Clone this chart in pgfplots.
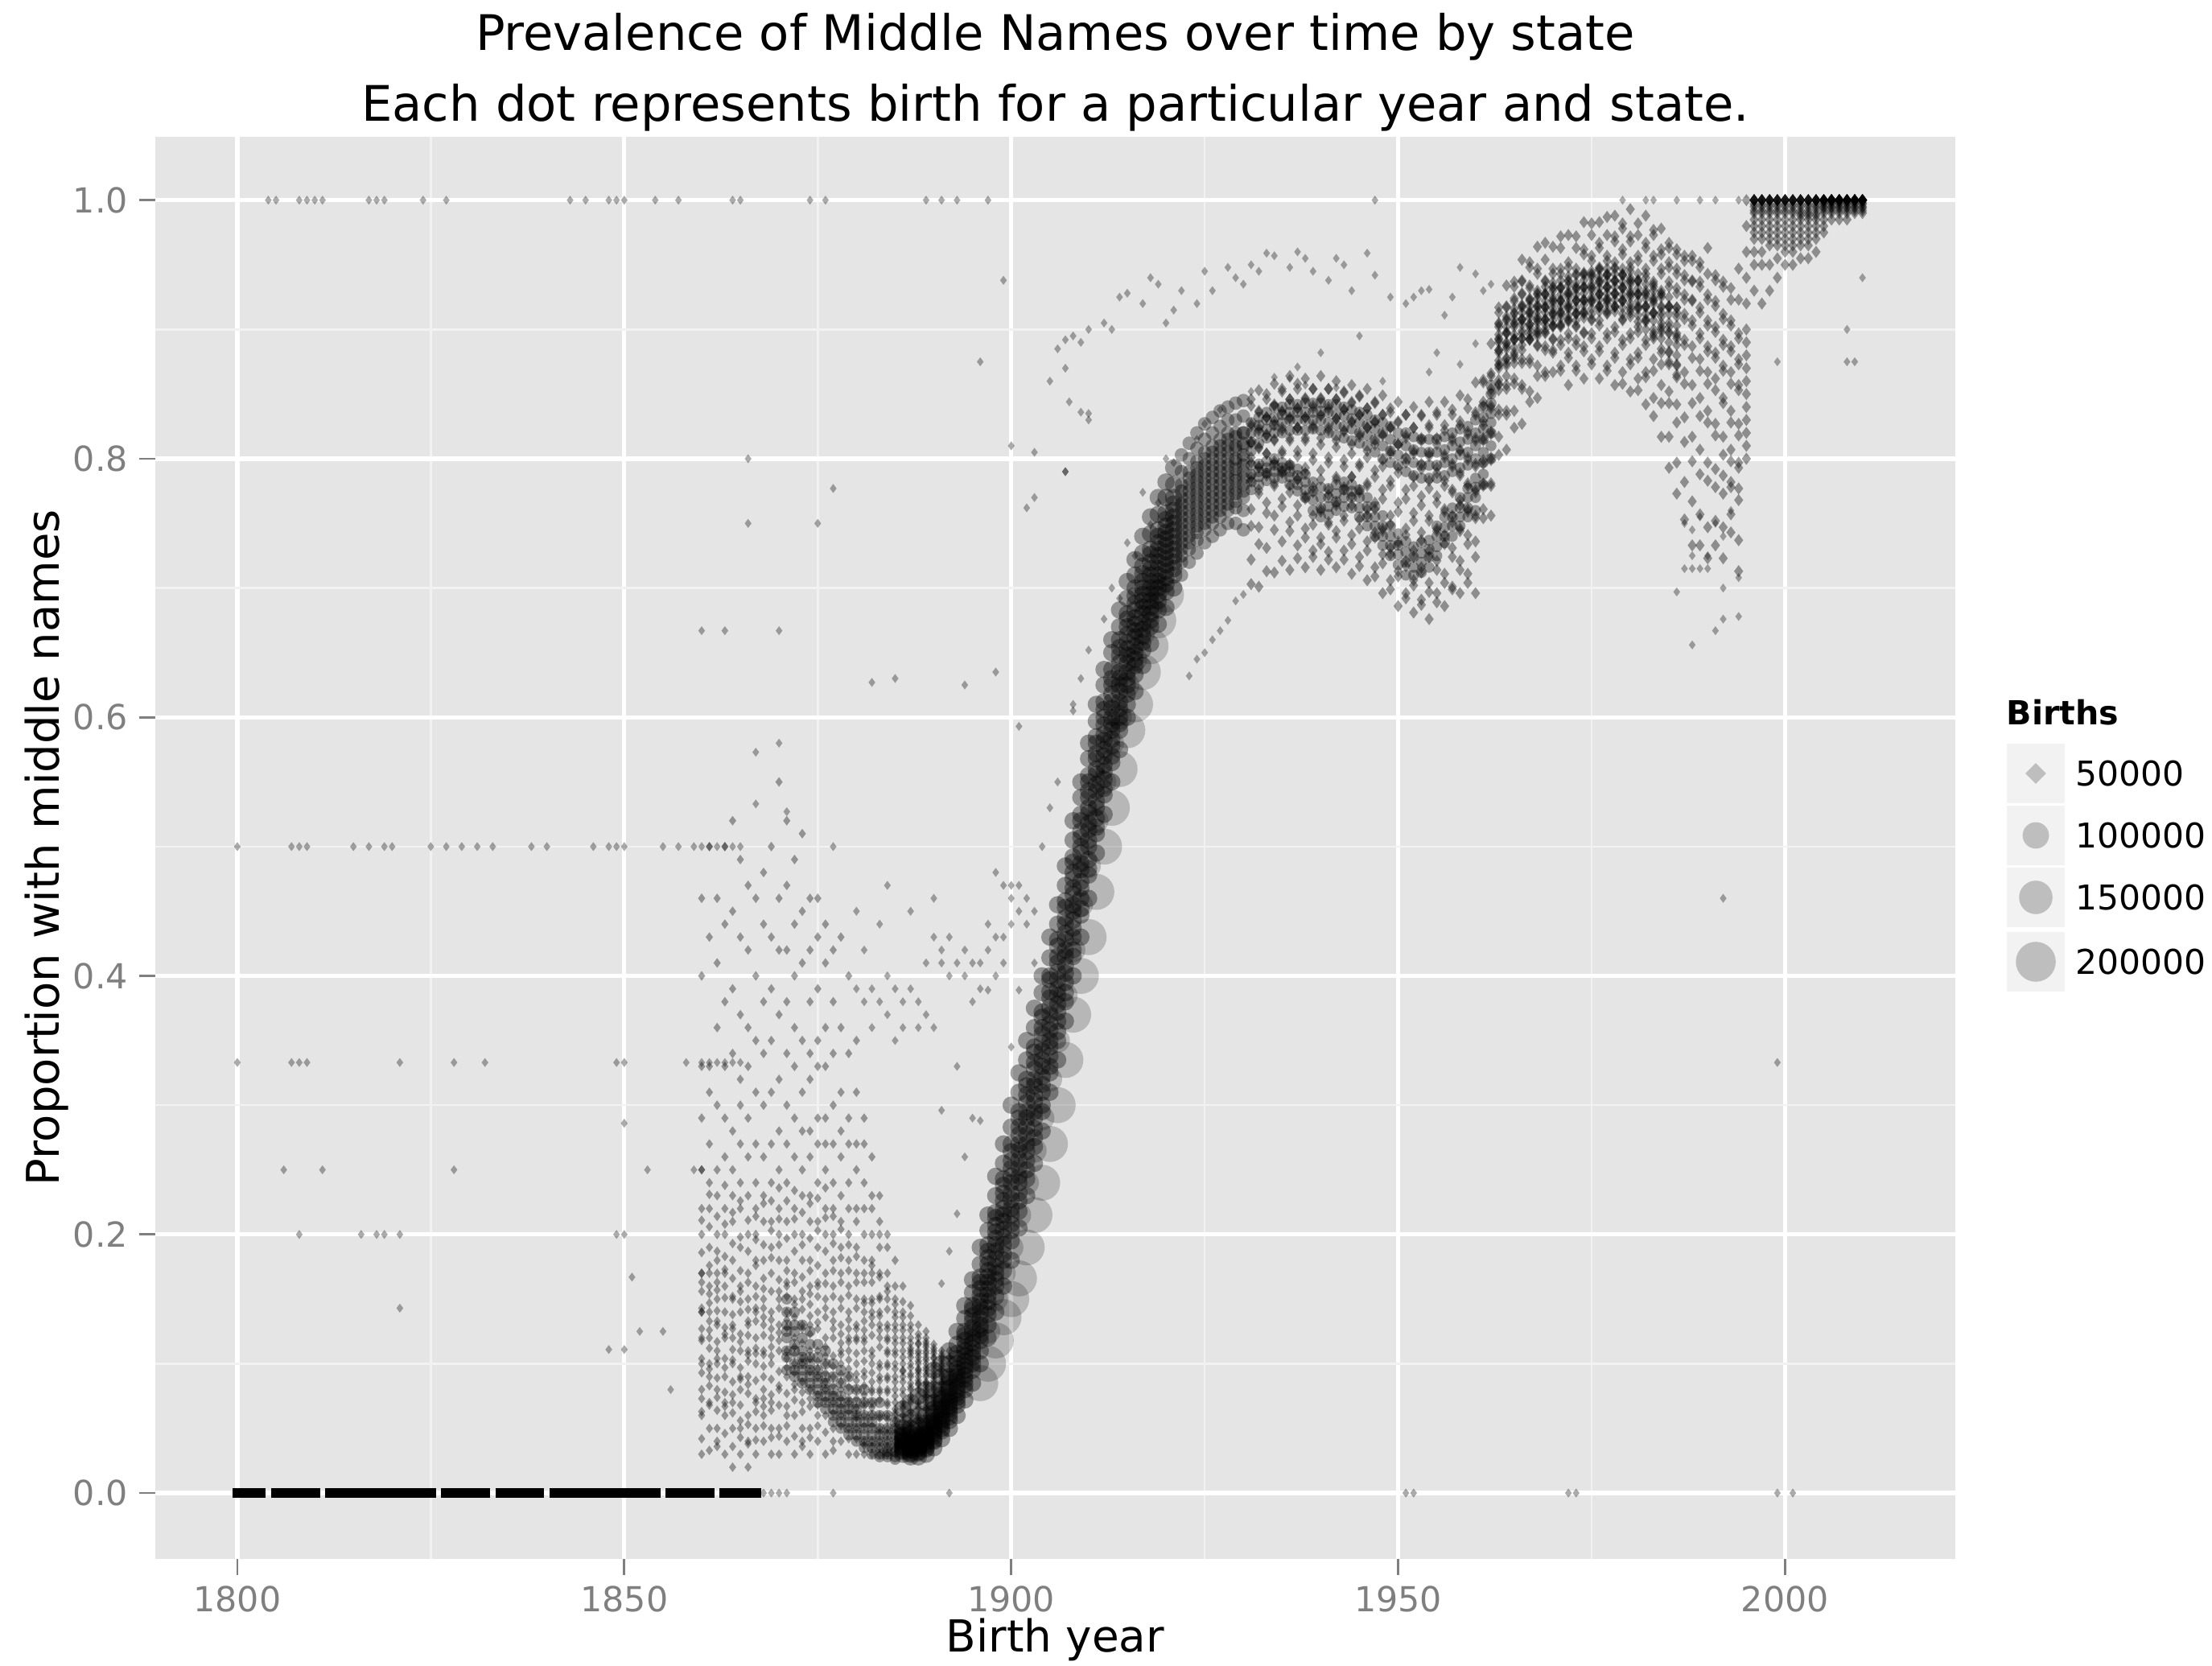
\documentclass[border=0pt]{standalone}
\usepackage{fontspec}
\setmainfont{DejaVu Sans}
\usepackage{pgfplots}
\usepackage{pgfplotstable}
\pgfplotsset{compat=1.18}
\definecolor{panel}{HTML}{E5E5E5}
\definecolor{minorg}{HTML}{F2F2F2}
\definecolor{keybg}{HTML}{F2F2F2}
\definecolor{keymk}{HTML}{BEBEBE}
\definecolor{tickg}{HTML}{7F7F7F}

% sparse points: year value
\pgfplotstableread{
1804 1
1805 1
1808 1
1809 1
1810 1
1811 1
1817 1
1818 1
1819 1
1824 1
1827 1
1843 1
1845 1
1848 1
1849 1
1850 1
1854 1
1857 1
1864 1
1865 1
1874 1
1876 1
1889 1
1891 1
1893 1
1897 1
1947 1
1979 1
1982 1
1983 1
1986 1
1989 1
1991 1
1994 1
1800 .5
1807 .5
1808 .5
1809 .5
1815 .5
1817 .5
1819 .5
1820 .5
1825 .5
1827 .5
1829 .5
1831 .5
1833 .5
1838 .5
1840 .5
1846 .5
1848 .5
1849 .5
1850 .5
1855 .5
1857 .5
1859 .5
1860 .5
1861 .5
1862 .5
1863 .5
1864 .5
1865 .5
1877 .5
1800 .333
1807 .333
1808 .333
1809 .333
1821 .333
1828 .333
1832 .333
1849 .333
1850 .333
1858 .333
1860 .333
1861 .333
1862 .333
1863 .333
1864 .333
1865 .333
1806 .25
1811 .25
1828 .25
1853 .25
1859 .25
1860 .25
1808 .2
1816 .2
1818 .2
1819 .2
1821 .2
1849 .2
1821 .143
1848 .111
1850 .286
1850 .2
1851 .167
1852 .125
1855 .125
1850 .111
1856 .08
1868 0
1869 0
1870 0
1871 0
1877 0
1892 0
1951 0
1952 0
1972 0
1973 0
1999 0
2001 0
1866 .80
1866 .75
1875 .75
1877 .777
1860 .667
1863 .667
1870 .667
1867 .573
1870 .58
1867 .533
1871 .527
1882 .627
1885 .63
1894 .625
1898 .635
1901 .593
1896 .875
1899 .938
1900 .81
1903 .805
1902 .762
1903 .77
1907 .79
1905 .86
1907 .87
1909 .836
1910 .83
1992 .46
1999 .333
1880 .39
1880 .45
1881 .38
1881 .42
1882 .36
1882 .39
1883 .38
1883 .44
1884 .37
1884 .40
1884 .47
1885 .35
1885 .39
1886 .38
1886 .36
1887 .39
1887 .45
1888 .36
1888 .38
1889 .37
1889 .41
1890 .43
1890 .46
1890 .36
1891 .42
1891 .41
1892 .40
1892 .43
1893 .41
1894 .40
1894 .42
1895 .41
1895 .38
1896 .39
1896 .41
1897 .42
1897 .44
1898 .40
1898 .48
1898 .43
1899 .47
1899 .43
1900 .44
1900 .46
1900 .47
1901 .45
1901 .47
1902 .44
1902 .46
1903 .41
1903 .45
1893 .33
1894 .26
1893 .216
1892 .187
1891 .162
1895 .29
1896 .288
1891 .296
1900 .345
1901 .389
1897 .389
1899 .41
1904 .50
1905 .53
1906 .55
1908 .61
1907.5 .844
1910 .835
1907 .79
1917 .774
1919 .766
1918 .749
1915 .735
1916 .725
1913 .70
1914 .692
1912 .676
1910 .652
1909 .63
1908 .605
1920 .80
1921 .797
1924 .815
1925 .827
1927 .838
1931 .852
1934 .863
1938 .857
1937 .871
1936 .862
1940 .882
1945 .895
1942 .855
1948 .86
1955 .882
1954 .867
1958 .873
1960 .889
1906 .885
1907 .892
1908 .895
1909 .89
1910 .90
1912 .905
1913 .90
1914 .925
1915 .928
1917 .92
1918 .94
1919 .935
1920 .905
1921 .915
1922 .93
1924 .92
1925 .945
1926 .93
1928 .948
1929 .94
1930 .935
1931 .95
1932 .945
1933 .959
1934 .957
1936 .948
1937 .96
1938 .955
1939 .945
1941 .938
1942 .955
1943 .95
1944 .93
1946 .959
1947 .942
1949 .925
1951 .92
1952 .925
1953 .93
1954 .931
1956 .911
1957 .925
1958 .948
1960 .943
1961 .93
1962 .935
1923 .632
1924 .645
1925 .65
1926 .66
1927 .667
1928 .675
1929 .69
1930 .695
1988 .656
1991 .667
1992 .676
1994 .678
1992 .70
1994 .708
1987 .715
1988 .715
1989 .715
1990 .715
1986 .697
1988 .725
1990 .725
1987 .75
1988 .745
1989 .755
1991 .75
1992 .74
1993 .76
1999 .875
2008 .875
2009 .875
2008 .90
2010 .94
}\tblsparse

% biggest states, large dots
\pgfplotstableread{
1896 .085 nan
1897 .10 .125
1898 .118 .15
1899 .136 .17
1900 .15 .19
1901 .166 .215
1902 .19 .24
1903 .215 .265
1904 .24 .29
1905 .27 .32
1906 .30 .35
1907 .335 .385
1908 .37 .42
1909 .40 .455
1910 .43 .485
1911 .465 .52
1912 .50 .55
1913 .53 .58
1914 .56 .60
1915 .59 .625
1916 .61 .645
1917 .635 .665
1918 .655 .685
1919 .675 .70
1920 .695 nan
}\tblbig

% early cloud
\pgfplotstableread{
1860 .03 .06 .08 .10 .12 .14 .14 .17 .17 .20 .22 .25 .29 .33 .40 .46
1861 .05 .07 .09 .10 .12 .14 .16 .17 .19 .22 .24 .27 .31 .33 .43 .50
1862 .04 .05 .08 .10 .11 .13 .15 .17 .18 .20 .23 .25 .30 .36 .41 .46
1863 .03 .06 .07 .09 .12 .14 .16 .17 .20 .22 .26 .29 .33 .38 .44 .50
1864 .02 .05 .07 .10 .12 .13 .15 .18 .21 .23 .25 .28 .34 .39 .45 .52
1865 .03 .05 .08 .09 .11 .14 .16 .19 .22 .24 .27 .30 .32 .37 .43 .49
1866 .02 .04 .06 .09 .11 .13 .15 .17 .20 .23 .26 .29 .33 .36 .42 .47
1867 .03 .05 .07 .10 .12 .14 .16 .18 .20 .22 .24 .27 .31 .35 .40 .46
1868 .04 .06 .08 .09 .11 .13 .15 .18 .21 .23 .26 .30 .34 .38 .44 .48
1869 .03 .05 .07 .10 .12 .14 .17 .19 .21 .24 .27 .31 .35 .39 .43 .50
1870 .03 .05 .08 .11 .13 .15 .18 .20 .22 .25 .28 .32 .37 .42 .46 .55
1871 .04 .06 .09 .11 .14 .16 .18 .21 .24 .27 .30 .34 .38 .42 .47 .52
1872 .03 .06 .08 .10 .12 .15 .17 .20 .22 .26 .29 .33 .36 .40 .44 .49
1873 .04 .05 .07 .10 .13 .15 .18 .20 .23 .25 .28 .31 .35 .41 .45 .51
1874 .03 .05 .08 .11 .13 .16 .18 .21 .23 .26 .28 .32 .34 .38 .42 .46
1875 .04 .06 .09 .11 .14 .16 .19 .21 .24 .27 .29 .33 .35 .39 .43 .46
1876 .03 .06 .08 .10 .12 .15 .17 .20 .22 .25 .27 .29 .33 .36 .41 .44
1877 .04 .05 .07 .09 .12 .14 .16 .18 .20 .22 .24 .27 .30 .34 .38 .42
1878 .04 .06 .08 .10 .11 .13 .15 .17 .19 .21 .23 .26 .28 .31 .36 .43
1879 .03 .05 .07 .09 .11 .12 .14 .16 .18 .20 .22 .24 .27 .29 .34 .40
1880 .03 .05 .06 .08 .10 .12 .13 .15 .17 .19 .21 .22 .25 .27 .31 .35
1881 .03 .04 .06 .07 .09 .11 .12 .14 .15 .17 .18 .20 .22 .24 .27 .29
1882 .03 .04 .06 .07 .08 .10 .11 .13 .14 .15 .17 .18 .20 .22 .23 .26
1883 .03 .04 .05 .06 .08 .09 .10 .12 .13 .14 .15 .17 .19 .20 .21 .23
1884 .03 .04 .05 .06 .07 .08 .09 .10 .11 .12 .13 .15 .16 .17 .19 .20
1885 .03 .04 .05 .06 .065 .07 .08 .09 .10 .11 .12 .13 .14 .15 .16 .18
1886 .03 .04 .045 .05 .06 .065 .07 .08 .09 .095 .10 .11 .12 .13 .14 .16
1887 .03 .04 .05 .055 .06 .07 .075 .08 .085 .09 .10 .105 .11 .12 .13 .145
1888 .04 .05 .055 .06 .065 .07 .08 .085 .09 .095 .10 .105 .11 .115 .12 .13
1889 .05 .06 .065 .07 .075 .08 .085 .09 .095 .10 .105 .11 .115 .12 .125 nan
1890 .06 .07 .075 .08 .085 .09 .095 .10 .105 .11 .115 nan nan nan nan nan
1891 .07 .08 .09 .095 .10 .105 .11 nan nan nan nan nan nan nan nan nan
}\tblcloud

% second pass through the early cloud
\pgfplotstableread{
1860 .042 .093 .127 .156 .186 .211 .118 .063 .143 .073 .163 .104
1861 .033 .083 .112 .133 .154 .176 .206 .068 .096 .126 .147 .231
1862 .064 .089 .117 .141 .163 .187 .214 .036 .074 .104 .133 .157
1863 .046 .078 .104 .128 .151 .183 .208 .238 .067 .097 .123 .173
1864 .036 .062 .086 .111 .138 .166 .193 .217 .076 .103 .127 .152
1865 .043 .068 .097 .123 .148 .172 .198 .226 .056 .088 .117 .156
1866 .053 .077 .102 .122 .142 .163 .187 .211 .038 .084 .107 .133
1867 .041 .063 .087 .112 .133 .152 .176 .196 .214 .073 .108 .143
1868 .052 .073 .098 .122 .143 .166 .192 .224 .067 .107 .136 .158
1869 .043 .064 .088 .113 .134 .156 .182 .203 .226 .076 .106 .127
1870 .044 .068 .094 .124 .143 .165 .192 .212 .236 .083 .118 .156
1871 .052 .077 .104 .128 .152 .172 .197 .226 .067 .097 .134 .163
1872 .044 .072 .093 .113 .136 .163 .187 .212 .234 .084 .107 .146
1873 .036 .063 .086 .116 .142 .167 .192 .217 .078 .104 .127 .156
1874 .043 .067 .094 .123 .146 .172 .197 .224 .073 .104 .137 .154
1875 .052 .076 .102 .127 .152 .176 .203 .228 .068 .096 .132 .163
1876 .047 .072 .093 .113 .136 .162 .187 .213 .236 .086 .106 .143
1877 .033 .062 .083 .106 .133 .152 .172 .193 .214 .076 .098 .127
1878 .052 .073 .092 .107 .123 .143 .163 .182 .204 .067 .086 .116
1879 .042 .063 .082 .103 .117 .134 .153 .172 .192 .073 .096 .127
1880 .042 .058 .073 .092 .108 .127 .143 .163 .183 .066 .087 .118
1881 .037 .052 .067 .083 .102 .117 .133 .147 .163 .076 .094 .126
1882 .036 .052 .066 .078 .093 .106 .122 .136 .147 .163 .176 .086
1883 .035 .047 .058 .072 .087 .097 .113 .126 .137 .152 .167 .078
1884 .036 .046 .057 .068 .078 .088 .098 .108 .118 .127 .142 .156
1885 .035 .046 .056 .062 .075 .086 .096 .107 .116 .126 .136 .146
1886 .036 .047 .056 .067 .076 .086 .094 .105 .116 .126 .136 .148
1887 .042 .052 .063 .072 .082 .092 .097 .108 .116 .126 .137 .112
1888 .047 .058 .067 .076 .087 .093 .102 .108 .116 .123 .096 .084
1889 .056 .067 .073 .083 .092 .097 .103 .108 .117 .086 .078 .113
1890 .067 .073 .082 .092 .098 .104 .108 .087 .112 nan nan nan
1891 .078 .086 .092 .098 .103 .107 .084 nan nan nan nan nan
1892 .086 .094 .10 .105 .11 nan nan nan nan nan nan nan
}\tblcloudb

% ridge of the descent
\pgfplotstableread{
1871 .125 .13 .12 .11 .14 .105 .15 .095
1872 .115 .125 .11 .10 .13 .095 .14 .09
1873 .105 .11 .10 .095 .12 .09 .13 .085
1874 .10 .105 .095 .09 .115 .085 .125 .08
1875 .09 .095 .085 .08 .105 .075 .115 .07
1876 .085 .09 .08 .075 .10 .07 .11 .065
1877 .075 .08 .07 .065 .09 .06 .10 .055
1878 .07 .075 .065 .06 .085 .055 .095 .05
1879 .065 .07 .06 .055 .08 .05 .09 .045
1880 .06 .065 .055 .05 .07 .045 .08 .04
1881 .055 .06 .05 .045 .07 .04 .08 .035
1882 .05 .055 .045 .04 .06 .035 .07 .03
1883 .045 .05 .04 .035 .06 .03 .07 .028
1884 .04 .045 .035 .032 .05 .03 .06 .028
1885 .04 .045 .035 .032 .05 .028 .055 .026
}\tblridge

% main rise
\pgfplotstableread{
1886 .03 .032 .035 .037 .04 .042 .045 .05 .055 .065
1887 .028 .03 .033 .035 .037 .04 .043 .05 .058 .07
1888 .028 .031 .034 .036 .038 .041 .045 .052 .06 .075
1889 .03 .034 .037 .04 .043 .047 .052 .06 .07 .08
1890 .035 .04 .044 .048 .052 .056 .062 .07 .08 .095
1891 .042 .048 .053 .057 .062 .067 .073 .08 .09 .10
1892 .05 .056 .062 .067 .072 .078 .085 .09 .10 .11
1893 .06 .068 .074 .08 .087 .093 .10 .108 .115 .125
1894 .072 .08 .088 .095 .102 .11 .118 .125 .135 .145
1895 .085 .095 .105 .112 .12 .128 .137 .145 .155 .165
1896 .10 .11 .122 .13 .14 .148 .158 .167 .177 .19
1897 .12 .13 .143 .153 .163 .172 .182 .192 .203 .215
1898 .14 .152 .165 .175 .187 .197 .207 .217 .23 .245
1899 .16 .172 .185 .198 .21 .22 .232 .243 .255 .27
1900 .18 .195 .208 .22 .232 .245 .257 .27 .283 .30
1901 .205 .218 .232 .245 .258 .27 .283 .295 .31 .325
1902 .23 .243 .257 .27 .283 .295 .308 .32 .335 .35
1903 .255 .268 .282 .295 .308 .32 .333 .345 .36 .375
1904 .28 .295 .31 .322 .335 .348 .36 .372 .387 .40
1905 .31 .325 .338 .35 .363 .376 .388 .40 .414 .43
1906 .335 .35 .365 .378 .39 .403 .415 .428 .44 .455
1907 .365 .38 .395 .408 .42 .433 .445 .458 .47 .485
1908 .40 .415 .43 .443 .455 .468 .48 .492 .505 .52
1909 .43 .447 .46 .473 .487 .50 .512 .525 .538 .55
1910 .46 .478 .49 .505 .518 .53 .543 .555 .568 .58
1911 .495 .51 .522 .535 .548 .56 .572 .585 .597 .61
1912 .525 .54 .552 .563 .575 .587 .60 .612 .625 .637
1913 .55 .565 .578 .59 .60 .612 .625 .637 .65 .66
1914 .575 .59 .60 .612 .625 .635 .648 .66 .67 .683
1915 .60 .61 .625 .635 .648 .658 .67 .68 .692 .705
1916 .62 .633 .645 .655 .667 .677 .688 .70 .71 .722
1917 .64 .652 .663 .673 .685 .695 .705 .717 .727 .74
1918 .657 .67 .68 .69 .70 .71 .72 .73 .742 .755
1919 .672 .683 .695 .705 .715 .725 .735 .745 .757 .77
1920 .685 .697 .708 .718 .728 .738 .748 .758 .77 .782
1921 .70 .71 .72 .73 .74 .75 .76 .77 .78 .793
1922 .71 .72 .73 .74 .75 .76 .77 .78 .79 .803
1923 .72 .73 .74 .75 .76 .77 .78 .79 .80 .812
1924 .727 .737 .748 .758 .768 .778 .788 .798 .808 .82
1925 .735 .745 .755 .765 .775 .785 .795 .805 .815 .827
1926 .74 .75 .76 .77 .78 .79 .80 .81 .82 .832
1927 .745 .755 .765 .775 .785 .795 .805 .815 .825 .837
1928 .75 .76 .77 .78 .79 .80 .81 .82 .83 .84
1929 .75 .762 .773 .783 .792 .80 .81 .82 .83 .843
1930 .745 .76 .775 .785 .795 .803 .812 .82 .833 .845
}\tblrise

% core of the rise
\pgfplotstableread{
1886 .033 .036 .039 .041 .044 .047
1887 .031 .034 .036 .039 .042 .046
1888 .032 .035 .037 .04 .043 .048
1889 .035 .039 .042 .045 .049 .054
1890 .041 .046 .05 .054 .059 .065
1891 .05 .055 .06 .065 .07 .076
1892 .059 .065 .07 .075 .081 .088
1893 .071 .077 .083 .09 .096 .104
1894 .084 .091 .098 .106 .113 .122
1895 .10 .108 .116 .124 .133 .142
1896 .118 .127 .135 .144 .153 .163
1897 .138 .148 .158 .167 .177 .187
1898 .16 .17 .181 .192 .202 .213
1899 .18 .192 .204 .215 .226 .238
1900 .203 .215 .227 .24 .251 .264
1901 .226 .24 .252 .265 .277 .29
1902 .25 .264 .277 .29 .302 .315
1903 .275 .29 .303 .315 .328 .341
1904 .30 .316 .33 .342 .355 .368
1905 .33 .345 .358 .37 .383 .397
1906 .357 .372 .385 .397 .41 .423
1907 .387 .402 .415 .428 .44 .453
1908 .42 .437 .45 .463 .475 .488
1909 .452 .468 .482 .495 .507 .52
1910 .483 .50 .513 .526 .538 .55
1911 .515 .53 .543 .556 .568 .58
1912 .545 .558 .57 .582 .594 .606
1913 .57 .583 .595 .607 .618 .63
1914 .595 .607 .62 .63 .642 .654
1915 .618 .63 .642 .653 .664 .676
1916 .64 .65 .662 .672 .683 .694
1917 .658 .668 .68 .69 .70 .711
1918 .675 .685 .695 .705 .715 .726
1919 .69 .70 .71 .72 .73 .74
1920 .703 .713 .723 .733 .743 .753
1921 .715 .725 .735 .745 .755 .765
1922 .725 .735 .745 .755 .765 .775
1923 .735 .745 .755 .765 .775 .785
1924 .743 .753 .763 .773 .783 .793
1925 .75 .76 .77 .78 .79 .80
1926 .755 .765 .775 .785 .795 .805
1927 .76 .77 .78 .79 .80 .81
1928 .765 .775 .785 .795 .805 .815
1929 .767 .777 .787 .797 .807 .817
1930 .77 .78 .79 .80 .81 .82
}\tblcore

% plateau and dip
\pgfplotstableread{
1931 .703 .722 .748 .761 .783 .786 .797 .801 .813 .812 .825 .827 .841 .846
1932 .701 .734 .747 .773 .776 .793 .794 .808 .809 .824 .822 .836 .837 .853
1933 .713 .731 .758 .766 .787 .789 .804 .804 .818 .819 .832 .832 .846 .85
1934 .712 .745 .756 .779 .781 .798 .796 .814 .815 .829 .826 .842 .841 .858
1935 .721 .736 .763 .769 .789 .791 .804 .806 .824 .822 .837 .836 .852 .854
1936 .714 .744 .751 .774 .779 .794 .796 .814 .816 .832 .831 .846 .846 .864
1937 .723 .733 .756 .764 .784 .784 .802 .806 .824 .824 .839 .839 .854 .858
1938 .716 .739 .746 .769 .771 .789 .793 .814 .816 .832 .832 .847 .846 .862
1939 .724 .729 .749 .756 .774 .778 .799 .804 .824 .826 .841 .839 .854 .854
1940 .714 .734 .739 .759 .761 .784 .791 .811 .816 .834 .833 .847 .846 .864
1941 .722 .728 .749 .751 .772 .776 .797 .801 .822 .824 .84 .838 .854 .854
1942 .716 .739 .744 .764 .766 .784 .786 .809 .814 .831 .831 .846 .846 .86
1943 .722 .729 .752 .756 .776 .778 .794 .799 .821 .822 .838 .838 .852 .851
1944 .711 .734 .741 .764 .771 .786 .786 .804 .811 .829 .828 .844 .843 .857
1945 .717 .724 .746 .753 .774 .776 .794 .796 .817 .819 .834 .834 .849 .848
1946 .706 .729 .736 .756 .761 .779 .781 .801 .806 .824 .824 .839 .839 .854
1947 .709 .716 .739 .743 .761 .766 .786 .791 .811 .814 .829 .828 .844 .843
1948 .696 .719 .726 .744 .746 .769 .776 .794 .799 .819 .818 .834 .834 .849
1949 .699 .706 .726 .731 .749 .756 .779 .783 .804 .806 .824 .824 .839 .836
1950 .686 .709 .713 .734 .736 .759 .766 .789 .793 .811 .811 .829 .828 .844
1951 .692 .696 .717 .721 .741 .746 .769 .776 .797 .801 .816 .818 .834 .834
1952 .681 .702 .706 .724 .729 .752 .758 .779 .786 .804 .806 .824 .824 .84
1953 .687 .691 .712 .716 .737 .743 .764 .771 .792 .796 .814 .816 .834 .833
1954 .676 .697 .704 .724 .729 .752 .756 .777 .783 .802 .804 .824 .826 .844
1955 .689 .696 .714 .721 .744 .746 .766 .771 .789 .793 .811 .816 .834 .836
1956 .686 .704 .711 .734 .741 .759 .761 .779 .783 .801 .803 .822 .826 .844
1957 .699 .701 .724 .731 .751 .756 .774 .776 .794 .796 .814 .816 .834 .838
1958 .696 .714 .721 .744 .746 .764 .768 .787 .789 .807 .806 .826 .829 .849
1959 .704 .711 .734 .741 .759 .761 .779 .781 .799 .801 .819 .821 .839 .846
1960 .696 .724 .736 .754 .756 .774 .776 .794 .796 .814 .816 .834 .836 .859
1961 .754 .761 .779 .781 .799 .796 .814 .816 .829 .826 .844 .841 .859 .861
1962 .756 .779 .781 .799 .801 .819 .821 .839 .841 .854 .851 .864 .866 .889
}\tblplateau

% the two arms of the plateau
\pgfplotstableread{
1931 .776 .782 .788 .795 .806 .813 .82 .828
1932 .78 .786 .79 .796 .812 .82 .826 .832
1933 .783 .789 .793 .798 .816 .823 .83 .836
1934 .785 .79 .795 .80 .82 .826 .832 .84
1935 .785 .79 .793 .797 .82 .828 .834 .84
1936 .78 .786 .79 .795 .822 .83 .836 .842
1937 .775 .78 .787 .792 .822 .83 .836 .842
1938 .77 .776 .782 .788 .822 .83 .836 .843
1939 .76 .768 .775 .782 .823 .83 .836 .843
1940 .755 .762 .77 .778 .822 .83 .837 .843
1941 .757 .763 .77 .777 .82 .828 .836 .842
1942 .76 .767 .773 .78 .818 .826 .834 .842
1943 .763 .77 .776 .782 .816 .825 .833 .84
1944 .762 .77 .775 .78 .814 .823 .831 .838
1945 .755 .762 .77 .776 .812 .82 .828 .836
1946 .748 .755 .763 .77 .81 .818 .826 .834
1947 .74 .748 .755 .763 .805 .815 .823 .83
1948 .733 .74 .748 .756 .80 .81 .82 .828
1949 .725 .733 .74 .748 .797 .806 .815 .825
1950 .718 .726 .733 .742 .795 .803 .812 .82
1951 .71 .72 .728 .736 .79 .80 .81 .82
1952 .71 .716 .724 .732 .787 .797 .807 .817
1953 .712 .72 .727 .735 .785 .795 .805 .815
1954 .716 .724 .73 .737 .785 .795 .805 .815
1955 .725 .732 .74 .748 .785 .795 .805 .815
1956 .735 .74 .747 .755 .787 .797 .807 .817
1957 .74 .748 .755 .762 .79 .80 .81 .82
1958 .748 .755 .762 .77 .793 .803 .813 .823
1959 .755 .762 .77 .777 .795 .805 .815 .825
1960 .76 .77 .778 .785 .80 .81 .82 .83
1961 .78 .788 .797 .805 .815 .823 .832 .84
1962 .80 .81 .82 .828 .835 .843 .85 .857
}\tblarms

% second hump and fall
\pgfplotstableread{
1963 .803 .817 .834 .838 .853 .857 .873 .872 .884 .882 .893 .892 .904 .902 .913 .917
1964 .807 .834 .837 .854 .857 .874 .877 .889 .887 .898 .897 .908 .907 .918 .917 .934
1965 .824 .837 .858 .862 .878 .882 .893 .892 .904 .902 .913 .912 .924 .922 .933 .937
1966 .827 .854 .857 .874 .877 .893 .897 .908 .907 .918 .917 .928 .927 .938 .937 .954
1967 .844 .852 .874 .877 .893 .892 .904 .902 .913 .912 .924 .922 .934 .932 .948 .952
1968 .847 .864 .872 .888 .887 .898 .897 .908 .907 .918 .917 .928 .927 .943 .947 .964
1969 .864 .867 .884 .887 .898 .897 .908 .907 .918 .917 .928 .927 .938 .937 .954 .967
1970 .867 .884 .882 .893 .892 .903 .902 .913 .912 .923 .922 .933 .932 .943 .947 .964
1971 .868 .872 .888 .892 .903 .902 .913 .912 .923 .922 .933 .932 .943 .947 .963 .972
1972 .857 .878 .882 .893 .897 .908 .907 .918 .917 .928 .927 .938 .937 .948 .952 .973
1973 .868 .872 .888 .892 .903 .902 .913 .912 .923 .922 .933 .932 .943 .947 .963 .972
1974 .862 .883 .887 .898 .897 .913 .912 .923 .922 .933 .932 .943 .942 .958 .962 .983
1975 .873 .877 .893 .897 .908 .907 .923 .922 .933 .932 .943 .942 .953 .957 .973 .982
1976 .862 .883 .887 .903 .907 .918 .917 .928 .927 .938 .937 .948 .947 .963 .967 .983
1977 .868 .872 .893 .897 .913 .912 .923 .922 .933 .932 .943 .942 .953 .957 .973 .987
1978 .857 .878 .882 .898 .902 .918 .917 .928 .927 .938 .937 .948 .952 .968 .972 .988
1979 .858 .867 .888 .892 .908 .907 .923 .922 .933 .932 .943 .942 .958 .962 .978 .982
1980 .852 .873 .877 .893 .897 .913 .917 .928 .927 .938 .937 .948 .952 .968 .972 .993
1981 .853 .862 .878 .882 .898 .902 .918 .917 .928 .927 .938 .937 .953 .957 .973 .982
1982 .842 .863 .867 .888 .892 .908 .907 .918 .917 .928 .927 .943 .947 .963 .967 .988
1983 .833 .847 .868 .877 .893 .897 .913 .912 .923 .922 .933 .937 .953 .957 .973 .977
1984 .817 .843 .857 .873 .882 .898 .902 .913 .917 .928 .927 .943 .947 .958 .962 .978
1985 .793 .817 .843 .852 .873 .882 .898 .902 .918 .917 .933 .937 .948 .952 .963 .967
1986 .773 .797 .828 .842 .863 .872 .893 .897 .913 .917 .928 .932 .943 .947 .958 .962
1987 .753 .782 .813 .832 .858 .867 .888 .892 .908 .912 .923 .927 .938 .942 .953 .957
1988 .733 .767 .798 .817 .843 .857 .878 .887 .903 .907 .923 .922 .938 .937 .953 .957
1989 .733 .757 .788 .807 .833 .847 .868 .877 .893 .897 .913 .917 .933 .937 .948 .952
1990 .723 .747 .783 .797 .828 .837 .858 .867 .883 .887 .903 .907 .923 .927 .943 .963
1991 .733 .752 .778 .792 .818 .827 .853 .862 .878 .882 .898 .902 .918 .922 .938 .942
1992 .723 .747 .773 .787 .803 .817 .843 .847 .868 .872 .888 .892 .908 .912 .933 .937
1993 .743 .757 .778 .782 .798 .807 .828 .837 .858 .867 .883 .887 .903 .907 .923 .932
1994 .713 .737 .768 .777 .793 .797 .818 .827 .853 .857 .873 .877 .893 .897 .923 .947
}\tblhump

% dark middle of the second hump
\pgfplotstableread{
1963 .861 .876 .884 .896 .858 .89 .87 .905
1964 .864 .878 .89 .902 .872 .885 .897 .91
1965 .874 .886 .896 .908 .88 .892 .905 .916
1966 .884 .893 .904 .913 .888 .899 .908 .919
1967 .892 .899 .909 .918 .896 .904 .914 .923
1968 .895 .905 .914 .924 .90 .91 .919 .93
1969 .90 .908 .917 .927 .904 .913 .922 .933
1970 .903 .911 .92 .93 .907 .916 .925 .936
1971 .904 .914 .922 .932 .909 .918 .927 .938
1972 .906 .916 .925 .934 .911 .92 .929 .941
1973 .907 .917 .927 .936 .912 .922 .931 .942
1974 .909 .919 .928 .938 .914 .923 .933 .944
1975 .912 .921 .93 .94 .916 .925 .935 .945
1976 .914 .923 .932 .941 .918 .927 .936 .946
1977 .915 .924 .933 .942 .92 .928 .938 .947
1978 .914 .923 .933 .943 .918 .928 .938 .947
1979 .912 .922 .932 .942 .917 .927 .937 .947
1980 .91 .92 .93 .94 .915 .925 .935 .945
1981 .906 .916 .927 .938 .911 .922 .932 .943
1982 .90 .912 .924 .935 .906 .918 .93 .94
1983 .895 .907 .92 .93 .90 .913 .925 .935
1984 .885 .90 .91 .925 .893 .905 .918 .93
1985 .875 .89 .905 .918 .883 .897 .912 .925
1986 .865 .88 .895 .91 .873 .888 .903 .917
}\tblhumpcore

% last years
\pgfplotstableread{
1995 .80 .81 .82 .83 .84 .85 .86 .87 .88 .89 .90 .92 .94 .96 .98 1
1996 .93 .95 .96 .97 .975 .98 .985 .99 .992 .995 .997 1 1 1 1 1
1997 .92 .95 .96 .97 .975 .98 .985 .99 .992 .995 .997 1 1 1 1 1
1998 .93 .95 .965 .97 .975 .98 .985 .99 .992 .995 .997 1 1 1 1 1
1999 .94 .955 .965 .97 .975 .98 .985 .99 .992 .995 .997 1 1 1 1 1
2000 .95 .96 .965 .97 .975 .98 .985 .99 .992 .995 .997 1 1 1 1 1
2001 .95 .96 .965 .97 .975 .98 .985 .99 .992 .995 .997 1 1 1 1 1
2002 .955 .965 .97 .975 .98 .985 .988 .99 .992 .995 .997 1 1 1 1 1
2003 .955 .965 .97 .975 .98 .985 .988 .99 .992 .995 .997 1 1 1 1 1
2004 .96 .97 .975 .98 .985 .988 .99 .993 .995 .997 1 1 1 1 1 1
2005 .975 .98 .985 .99 .992 .994 .995 .997 .998 1 1 1 1 1 1 1
2006 .985 .99 .992 .994 .995 .997 .998 1 1 1 1 1 1 1 1 1
2007 .985 .99 .992 .994 .995 .997 .998 1 1 1 1 1 1 1 1 1
2008 .985 .99 .992 .994 .995 .997 .998 1 1 1 1 1 1 1 1 1
2009 .99 .992 .994 .995 .997 .998 1 1 1 1 1 1 1 1 1 1
2010 .99 .992 .994 .995 .997 .998 1 1 1 1 1 1 1 1 1 1
}\tbllast

% zero line of the early years
\pgfplotstableread{
1800 0
1801 0
1802 0
1803 0
1805 0
1806 0
1807 0
1808 0
1809 0
1810 0
1812 0
1813 0
1814 0
1815 0
1816 0
1817 0
1818 0
1819 0
1820 0
1821 0
1822 0
1823 0
1824 0
1825 0
1827 0
1828 0
1829 0
1830 0
1831 0
1832 0
1834 0
1835 0
1836 0
1837 0
1838 0
1839 0
1841 0
1842 0
1843 0
1844 0
1845 0
1846 0
1847 0
1848 0
1849 0
1850 0
1851 0
1852 0
1853 0
1854 0
1856 0
1857 0
1858 0
1859 0
1860 0
1861 0
1863 0
1864 0
1865 0
1866 0
1867 0
}\tblzero

\begin{document}
\begin{tikzpicture}[x=1pt,y=1pt]
\path[use as bounding box] (0,0) rectangle (687.25,517.25);
\begin{axis}[
  at={(48.25pt,33pt)}, anchor=south west,
  scale only axis, width=559.25pt, height=441.75pt,
  xmin=1789.4, xmax=2022, ymin=-0.051, ymax=1.049,
  axis background/.style={fill=panel},
  axis line style={draw=none},
  xtick={1800,1850,1900,1950,2000},
  ytick={0,0.2,0.4,0.6,0.8,1.0},
  minor xtick={1825,1875,1925,1975},
  minor ytick={0.1,0.3,0.5,0.7,0.9},
  xmajorgrids, ymajorgrids, xminorgrids, yminorgrids,
  major grid style={white,line width=1.3pt},
  minor grid style={minorg,line width=0.65pt},
  tick style={tickg,line width=0.7pt},
  major tick length=5pt, minor tick length=0pt,
  tick align=outside, tick pos=left,
  x tick label style={font=\fontsize{10.7}{12}\selectfont,text=tickg,
    /pgf/number format/assume math mode=true,/pgf/number format/1000 sep={}},
  y tick label style={font=\fontsize{10.7}{12}\selectfont,text=tickg,
    /pgf/number format/assume math mode=true,/pgf/number format/fixed,
    /pgf/number format/fixed zerofill,/pgf/number format/precision=1},
  title={Prevalence of Middle Names over time by state\\Each dot represents birth for a particular year and state.},
  title style={at={(axis description cs:0.5,1)},yshift=14pt,anchor=center,align=center,
    font=\fontsize{15.2}{21.9}\selectfont},
  xlabel={Birth year},
  xlabel style={at={(axis description cs:0.5,0)},yshift=-25pt,anchor=center,
    font=\fontsize{13.7}{16}\selectfont},
  ylabel={Proportion with middle names},
  ylabel style={at={(axis description cs:0,0.5)},yshift=33.75pt,anchor=center,
    font=\fontsize{14}{16}\selectfont},
  clip mode=individual,
  unbounded coords=discard,
  faint/.style={only marks,forget plot,mark=diamond*,mark size=1.4pt,
    mark options={fill=black,fill opacity=0.33,draw opacity=0}},
  tiny/.style={only marks,forget plot,mark=diamond*,mark size=1.5pt,
    mark options={fill=black,fill opacity=0.36,draw opacity=0}},
  small/.style={only marks,forget plot,mark=diamond*,mark size=1.9pt,
    mark options={fill=black,fill opacity=0.38,draw opacity=0}},
  mid/.style={only marks,forget plot,mark=*,mark size=1.7pt,
    mark options={fill=black,fill opacity=0.36,draw opacity=0}},
  bandb/.style={only marks,forget plot,mark=*,mark size=2.1pt,
    mark options={fill=black,fill opacity=0.34,draw opacity=0}},
  band/.style={only marks,forget plot,mark=*,mark size=2.7pt,
    mark options={fill=black,fill opacity=0.36,draw opacity=0}},
  large/.style={only marks,forget plot,mark=*,mark size=5.6pt,
    mark options={fill=black,fill opacity=0.2,draw opacity=0}},
  second/.style={only marks,forget plot,mark=*,mark size=3.8pt,
    mark options={fill=black,fill opacity=0.2,draw opacity=0}},
]
\addplot[large] table[x index=0,y index=1]{\tblbig};
\addplot[second] table[x index=0,y index=2]{\tblbig};
\addplot[faint] table[x index=0,y index=1]{\tblsparse};
\pgfplotsinvokeforeach{1,...,16}{\addplot[tiny] table[x index=0,y index=#1]{\tblcloud};}
\pgfplotsinvokeforeach{1,...,12}{\addplot[tiny] table[x index=0,y index=#1]{\tblcloudb};}
\pgfplotsinvokeforeach{1,...,8}{\addplot[mid] table[x index=0,y index=#1]{\tblridge};}
\pgfplotsinvokeforeach{1,...,10}{\addplot[band,restrict x to domain=1886:1921] table[x index=0,y index=#1]{\tblrise};}
\pgfplotsinvokeforeach{1,...,6}{\addplot[band,restrict x to domain=1886:1921] table[x index=0,y index=#1]{\tblcore};}
\pgfplotsinvokeforeach{1,...,10}{\addplot[bandb,restrict x to domain=1922:1930] table[x index=0,y index=#1]{\tblrise};}
\pgfplotsinvokeforeach{1,...,6}{\addplot[bandb,restrict x to domain=1922:1930] table[x index=0,y index=#1]{\tblcore};}
\pgfplotsinvokeforeach{1,...,14}{\addplot[small] table[x index=0,y index=#1]{\tblplateau};}
\pgfplotsinvokeforeach{1,...,8}{\addplot[mid] table[x index=0,y index=#1]{\tblarms};}
\pgfplotsinvokeforeach{1,...,16}{\addplot[small] table[x index=0,y index=#1]{\tblhump};}
\pgfplotsinvokeforeach{1,...,8}{\addplot[small] table[x index=0,y index=#1]{\tblhumpcore};}
\pgfplotsinvokeforeach{1,...,16}{\addplot[small] table[x index=0,y index=#1]{\tbllast};}
\addplot[only marks,forget plot,mark=square*,mark size=1.6pt,mark options={draw opacity=0,fill=black}]
  table[x index=0,y index=1]{\tblzero};
\end{axis}
% legend
\node[anchor=west,font=\fontsize{10.3}{12}\bfseries\selectfont,inner sep=0pt] at (623.2,296) {Births};
\foreach \yy/\lab in {277/50000,257.75/100000,238.5/150000,218.5/200000}{
  \fill[keybg] (623.5,\yy-9.2) rectangle (641.5,\yy+9.2);
  \node[anchor=west,font=\fontsize{10.6}{12}\selectfont,inner sep=0pt] at (644.75,\yy) {\lab};
}
\fill[keymk] (632.5,277+3.2) -- (632.5+3.2,277) -- (632.5,277-3.2) -- (632.5-3.2,277) -- cycle;
\fill[keymk] (632.5,257.75) circle (4.1);
\fill[keymk] (632.5,238.5) circle (5.2);
\fill[keymk] (632.5,218.5) circle (6.2);
\end{tikzpicture}
\end{document}
